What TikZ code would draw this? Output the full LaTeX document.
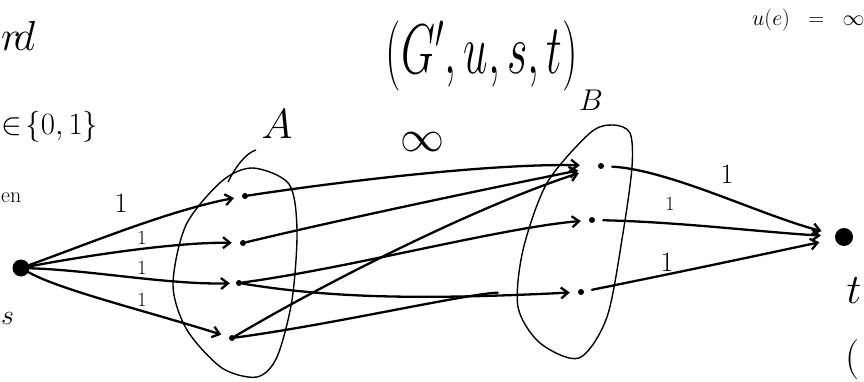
\documentclass[tikz,border=0pt]{standalone}
\usepackage{fix-cm}
\usepackage{graphicx}
\usetikzlibrary{arrows.meta}
\begin{document}
\begin{tikzpicture}[x=1pt,y=-1pt,
  dotnode/.style={circle,fill=black,inner sep=0pt,minimum size=6pt},
  bigdot/.style={circle,fill=black,inner sep=0pt,minimum size=17pt},
  edge/.style={line width=2.3pt,line cap=round,-{Straight Barb[length=7pt,width=11pt,line width=2.3pt]}},
  plain/.style={line width=2.3pt,line cap=round},
  setline/.style={line width=1.4pt},
  lbl/.style={inner sep=0pt,font=\fontsize{28}{28}\selectfont},
  smalllbl/.style={inner sep=0pt,font=\fontsize{20}{20}\selectfont}]
\useasboundingbox (0,0) rectangle (864,382);
\clip (0,0) rectangle (864,382);
% nodes
\node[bigdot] (s) at (21,268) {};
\node[dotnode] (a1) at (245,196) {};
\node[dotnode] (a2) at (243,243) {};
\node[dotnode] (a3) at (239,283) {};
\node[dotnode] (a4) at (232,338) {};
\node[dotnode] (b1) at (601,166) {};
\node[dotnode] (b2) at (592,220) {};
\node[dotnode] (b3) at (581,292) {};
\node[bigdot,minimum size=18pt] (t) at (844,237) {};
% sets
\draw[setline] plot[smooth cycle] coordinates {(253,168) (289,184) (297,230) (292,300) (277,357) (257,377) (222,368) (187,330) (173,285) (186,225) (222,181)};
\draw[setline] (228,182) .. controls (236,166) and (246,153) .. (256,150);
\draw[setline] plot[smooth cycle] coordinates {(613,125) (630,133) (632,167) (623,233) (607,317) (579,358) (540,343) (518,307) (523,250) (547,183) (590,133)};
% s -> A
\draw[edge,shorten >=8pt] (s) .. controls (85,245) and (170,210) .. (a1);
\draw[edge,shorten >=8pt] (s) .. controls (95,254) and (180,242) .. (a2);
\draw[edge,shorten >=6pt] (s) .. controls (90,270) and (170,285) .. (a3);
\draw[edge,shorten >=8pt] (s) .. controls (60,290) and (150,312) .. (a4);
% A -> B
\draw[edge,shorten >=18pt] (a1) .. controls (350,180) and (500,163) .. (b1);
\draw[edge,shorten >=20pt] (a2) .. controls (330,222) and (480,190) .. (b1);
\draw[edge,shorten >=20pt] (a4) .. controls (330,280) and (480,205) .. (b1);
\draw[edge,shorten >=8pt] (a3) .. controls (350,268) and (500,228) .. (b2);
\draw[edge,shorten >=8pt] (a3) .. controls (330,298) and (420,300) .. (b3);
\draw[plain,shorten >=80pt] (a4) .. controls (330,325) and (470,293) .. (b3);
% B -> t
\draw[edge,shorten <=8pt,shorten >=14pt] (b1) .. controls (670,170) and (760,215) .. (t);
\draw[edge,shorten <=8pt,shorten >=14pt] (b2) .. controls (680,222) and (760,232) .. (t);
\draw[edge,shorten <=8pt,shorten >=16pt] (b3) .. controls (680,272) and (760,255) .. (t);
% labels
\node[inner sep=0pt,font=\fontsize{44}{44}\selectfont] (title) at (482,56) {\scalebox{1}[1.6]{$(G',u,s,t)$}};
\node[inner sep=0pt,font=\fontsize{42}{42}\selectfont] (labA) at (277,124) {$A$};
\node[inner sep=0pt,font=\fontsize{30}{30}\selectfont] (labB) at (591,100) {$B$};
\node[inner sep=0pt,font=\fontsize{44}{44}\selectfont] (inf) at (422,142) {$\infty$};
\node[lbl] (w1) at (121,203) {1};
\node[smalllbl] (w2) at (142,238) {1};
\node[smalllbl] (w3) at (142,268) {1};
\node[smalllbl] (w4) at (142,300) {1};
\node[lbl] (w5) at (727,174) {1};
\node[smalllbl] (w6) at (670,204) {1};
\node[lbl] (w7) at (667,262) {1};
\node[inner sep=0pt,font=\fontsize{42}{42}\selectfont] (labt) at (854,291) {$t$};
% margin texts
\node[inner sep=0pt,anchor=west,font=\fontsize{42}{42}\selectfont] (rd) at (1,36) {$r\!d$};
\node[inner sep=0pt,anchor=west,font=\fontsize{31}{31}\selectfont] (set01) at (1,127) {$\in\!\{0,1\}$};
\node[inner sep=0pt,anchor=west,font=\fontsize{22}{22}\selectfont] (en) at (1,198) {en};
\node[inner sep=0pt,anchor=west,font=\fontsize{28}{28}\selectfont] (sl) at (1,318) {$s$};
\node[inner sep=0pt,anchor=west,font=\fontsize{22}{22}\selectfont] (ue) at (752,20) {$u(e)\;\;=\;\;\infty$};
\node[inner sep=0pt,font=\fontsize{40}{40}\selectfont] (par) at (853,360) {(};
\end{tikzpicture}
\end{document}
